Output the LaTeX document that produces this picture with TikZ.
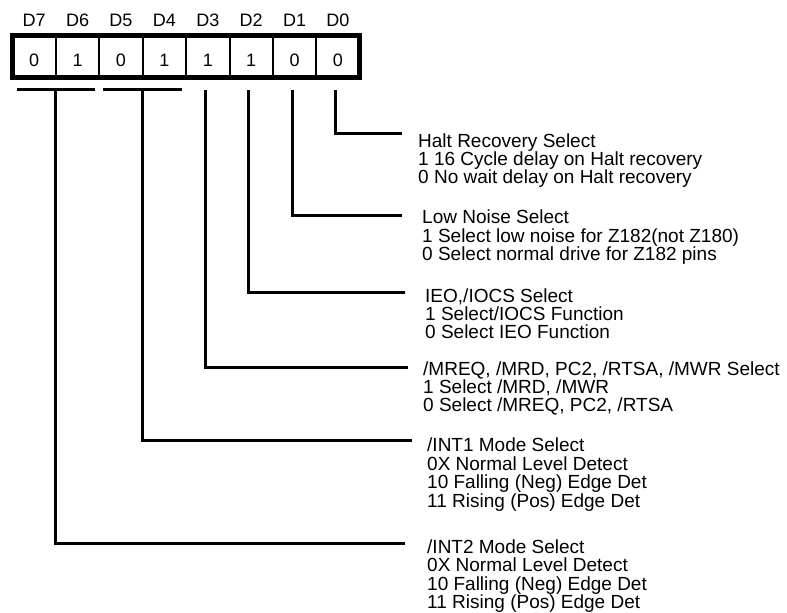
\documentclass[tikz,border=0pt]{standalone}
\usepackage{fontspec}
\setmainfont{Liberation Sans}
\usetikzlibrary{calc}

\tikzset{
    cell/.style={draw, line width=2pt, minimum width=43.4pt, minimum height=42pt,
        inner sep=0pt, outer sep=0pt, text height=19.5pt, text depth=0pt,
        font=\fontsize{18}{18}\selectfont},
    bitlabel/.style={anchor=base, inner sep=0pt, font=\fontsize{18}{18}\selectfont},
    tap/.style={line width=3pt},
    note/.style={anchor=north west, inner sep=0pt, align=left,
        font=\fontsize{19}{18.4}\selectfont}
}

\begin{document}
\begin{tikzpicture}[x=1pt,y=-1pt]
    \useasboundingbox (0,0) rectangle (787,613);

    % Register cells and bit names, D7 on the left
    \foreach \bit/\val [count=\i from 0] in {7/0,6/1,5/0,4/1,3/1,2/1,1/0,0/0} {
        \node[cell] (b\bit) at (34.2+43.4*\i,56.5) {\val};
        \node[bitlabel] (d\bit) at (34.2+43.4*\i,26.7) {D\bit};
    }
    \draw[line width=5pt] (b7.north west) rectangle (b0.south east);

    % Tap points under the register
    \coordinate (g76) at ($(b7.south east)+(0,11.5)$);
    \coordinate (g54) at ($(b5.south east)+(0,11.5)$);
    \coordinate (t3) at ($(b3.south)+(-2.5,12.5)$);
    \coordinate (t2) at ($(b2.south)+(-2.5,12.5)$);
    \coordinate (t1) at ($(b1.south)+(-2.5,12.5)$);
    \coordinate (t0) at ($(b0.south)+(-2.5,12.5)$);

    % Bars over the two-bit fields
    \draw[tap] ($(g76)+(-39,0)$) -- ($(g76)+(39,0)$);
    \draw[tap] ($(g54)+(-39.5,0)$) -- ($(g54)+(39.5,0)$);

    % Ends of the leader lines
    \coordinate (e0) at (402,133);
    \coordinate (e1) at (402,215);
    \coordinate (e2) at (405,292);
    \coordinate (e3) at (408,367);
    \coordinate (e54) at (412,440);
    \coordinate (e76) at (405,543);

    % Leader lines
    \draw[tap] (t0) |- (e0);
    \draw[tap] (t1) |- (e1);
    \draw[tap] (t2) |- (e2);
    \draw[tap] (t3) |- (e3);
    \draw[tap] (g54) |- (e54);
    \draw[tap] (g76) |- (e76);

    % Bit descriptions
    \node[note] (halt) at (418,133.1) {Halt Recovery Select\\1 16 Cycle delay on Halt recovery\\0 No wait delay on Halt recovery};
    \node[note] (noise) at (422,209.7) {Low Noise Select\\1 Select low noise for Z182(not Z180)\\0 Select normal drive for Z182 pins};
    \node[note] (ieo) at (425,288.1) {IEO,/IOCS Select\\1 Select/IOCS Function\\0 Select IEO Function};
    \node[note] (mreq) at (423,361.2) {/MREQ, /MRD, PC2, /RTSA, /MWR Select\\1 Select /MRD, /MWR\\0 Select /MREQ, PC2, /RTSA};
    \node[note] (intone) at (427,437.9) {/INT1 Mode Select\\0X Normal Level Detect\\10 Falling (Neg) Edge Det\\11 Rising (Pos) Edge Det};
    \node[note] (inttwo) at (427,539.5) {/INT2 Mode Select\\0X Normal Level Detect\\10 Falling (Neg) Edge Det\\11 Rising (Pos) Edge Det};

\end{tikzpicture}
\end{document}
